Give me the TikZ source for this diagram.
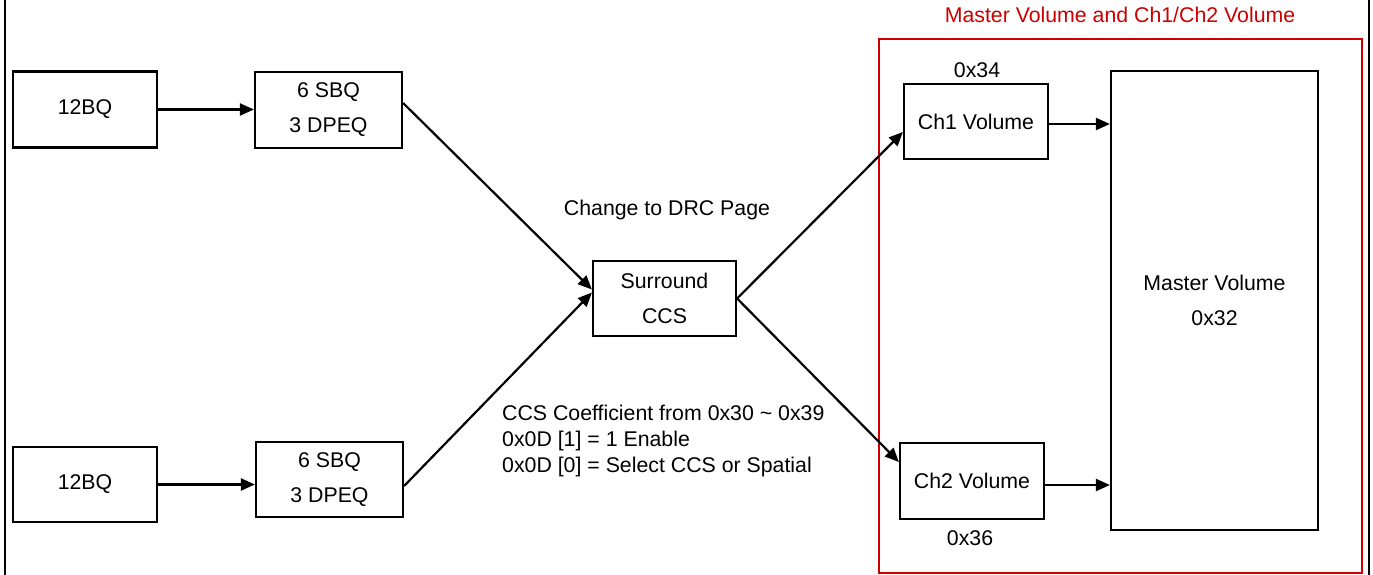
\documentclass[tikz,border=0pt]{standalone}
\usepackage{fontspec}
\setmainfont{Liberation Sans}
\usetikzlibrary{arrows.meta,calc}
\definecolor{framered}{RGB}{204,0,0}
\begin{document}
\begin{tikzpicture}[x=1pt,y=-1pt,
  every node/.style={font=\fontsize{21.3}{35}\selectfont},
  blk/.style={draw=black,line width=2.2pt,inner sep=0pt,align=center,fill=white},
  conn/.style={line width=2.2pt,-{Triangle[length=14pt,width=12pt]}},
  lbl/.style={inner sep=0pt}]
\useasboundingbox (0,0) rectangle (1373,575);
% outer side lines
\draw[line width=2.5pt] (5,0) coordinate (ol1) -- (5,575) coordinate (ol2);
\draw[line width=2.5pt] (1369,0) coordinate (or1) -- (1369,575) coordinate (or2);
% red frame
\draw[framered,line width=2.2pt] (879,39) rectangle (1362,573);
\node[lbl,text=framered] (title) at (1120,15) {Master Volume and Ch1/Ch2 Volume};
% blocks
\node[blk,minimum width=144pt,minimum height=76pt] (a1) at (85,109.5) {12BQ};
\node[blk,minimum width=147pt,minimum height=76pt] (b1) at (328.5,110) {6 SBQ\\3 DPEQ};
\node[blk,minimum width=144pt,minimum height=75pt] (a2) at (85,484.5) {12BQ};
\node[blk,minimum width=147pt,minimum height=75pt] (b2) at (329.5,479.5) {6 SBQ\\3 DPEQ};
\node[blk,minimum width=143pt,minimum height=75pt] (s) at (664.5,298.5) {Surround\\CCS};
\node[blk,minimum width=144pt,minimum height=75pt] (c1) at (976,121.5) {Ch1 Volume};
\node[blk,minimum width=144pt,minimum height=76pt] (c2) at (972,481) {Ch2 Volume};
\node[blk,minimum width=207pt,minimum height=459pt] (m) at (1214.5,300.5) {Master Volume\\0x32};
% labels
\node[lbl] (l34) at (977,70) {0x34};
\node[lbl] (l36) at (970,538) {0x36};
\node[lbl] (drc) at (667,210) {Change to DRC Page};
\node[lbl,anchor=west,align=left,font=\fontsize{21.3}{26}\selectfont] (ccs) at (502,441)
  {CCS Coefficient from 0x30 \textasciitilde{} 0x39\\0x0D [1] = 1 Enable\\0x0D [0] = Select CCS or Spatial};
% connectors
\draw[conn] (a1.east) -- (b1.west |- a1.east);
\draw[conn] (a2.east) -- (b2.west |- a2.east);
\draw[conn] ($(b1.east)+(0,-7)$) -- ($(s.west)+(0,-9)$);
\draw[conn] ($(b2.east)+(0,6.5)$) -- ($(s.west)+(0,-6)$);
\draw[conn] (s.east) -- ($(c1.west)+(0,10.5)$);
\draw[conn] (s.east) -- ($(c2.west)+(0,-19)$);
\draw[conn] ($(c1.east)+(0,2.5)$) -- ($(m.west |- c1.east)+(0,2.5)$);
\draw[conn] ($(c2.east)+(0,4)$) -- ($(m.west |- c2.east)+(0,4)$);
\end{tikzpicture}
\end{document}
